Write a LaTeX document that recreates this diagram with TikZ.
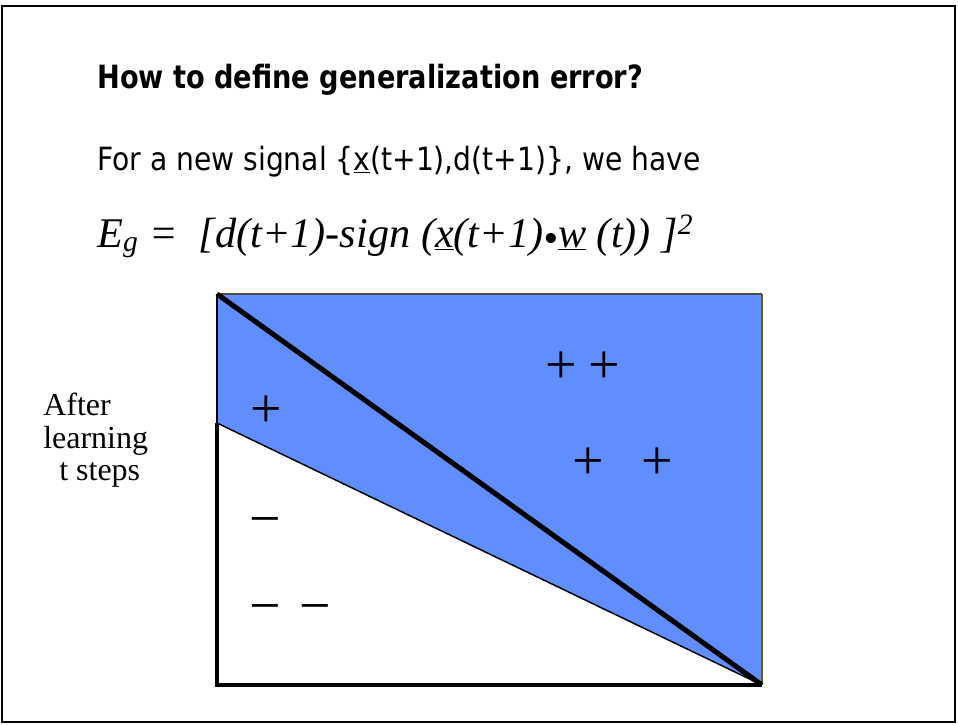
\documentclass[tikz,border=0pt]{standalone}
\usepackage{fontspec}
\setmainfont{Liberation Serif}
\newfontfamily\titlefont[FakeStretch=0.85]{DejaVu Sans}
\newfontfamily\slidefont[FakeStretch=0.88]{DejaVu Sans}
\definecolor{regionblue}{RGB}{97,142,255}
\definecolor{edgeolive}{RGB}{102,102,0}
\begin{document}
\begin{tikzpicture}[x=0.75pt,y=-0.75pt,
    sign/.style={inner sep=0pt,font=\fontsize{42}{42}\selectfont},
    heading/.style={anchor=base west,inner sep=0pt,font=\slidefont\fontsize{24}{28}\selectfont}]
    \useasboundingbox (0,0) rectangle (958,725);
    \draw[line width=1.5pt] (2,6) rectangle (955,722);
    % slide text
    \node[heading,font=\titlefont\bfseries\fontsize{24}{28}\selectfont] (title) at (97,88) {How to define generalization error?};
    \node[heading] (signal) at (97,170) {For a new signal \{\underline{x}(t+1),d(t+1)\}, we have};
    \node[anchor=base west,inner sep=0pt,font=\itshape\fontsize{31.7}{36}\selectfont] (eg) at (97,247)
      {E\textsubscript{g} =\ \ [d(t+1)-sign (\underline{x}(t+1)\raisebox{-0.12em}{•}\underline{w} (t)) ]\textsuperscript{2}};
    \node[align=left,anchor=north west,inner sep=0pt,font=\fontsize{24}{24.4}\selectfont] (after) at (43,393) {After\\learning\\\ \ t steps};
    % the plot
    \coordinate (tl) at (217,294);
    \coordinate (tr) at (762,294);
    \coordinate (br) at (762,685);
    \coordinate (bl) at (217,685);
    \coordinate (cut) at (217,423);
    \fill[regionblue] (tl) -- (tr) -- (br) -- (cut) -- cycle;
    \draw[gray!60!black,line width=1pt] (tl) -- (tr);
    \draw[black,line width=0.8pt] (tl) -- (cut);
    \draw[edgeolive,line width=1.8pt] (tr) -- (br);
    \draw[line width=2.4pt] (cut) -- (bl) -- (br);
    \draw[line width=1.1pt] (cut) -- (br);
    \draw[line width=3.8pt] (tl) -- (br);
    % signs
    \node[sign] (p1) at (266,412) {+};
    \node[sign] (p2) at (561,368) {+};
    \node[sign] (p3) at (604,368) {+};
    \node[sign] (p4) at (588,464) {+};
    \node[sign] (p5) at (657,464) {+};
    \node[sign] (m1) at (265,528) {−};
    \node[sign] (m2) at (265,615) {−};
    \node[sign] (m3) at (315,615) {−};
  \end{tikzpicture}
\end{document}
